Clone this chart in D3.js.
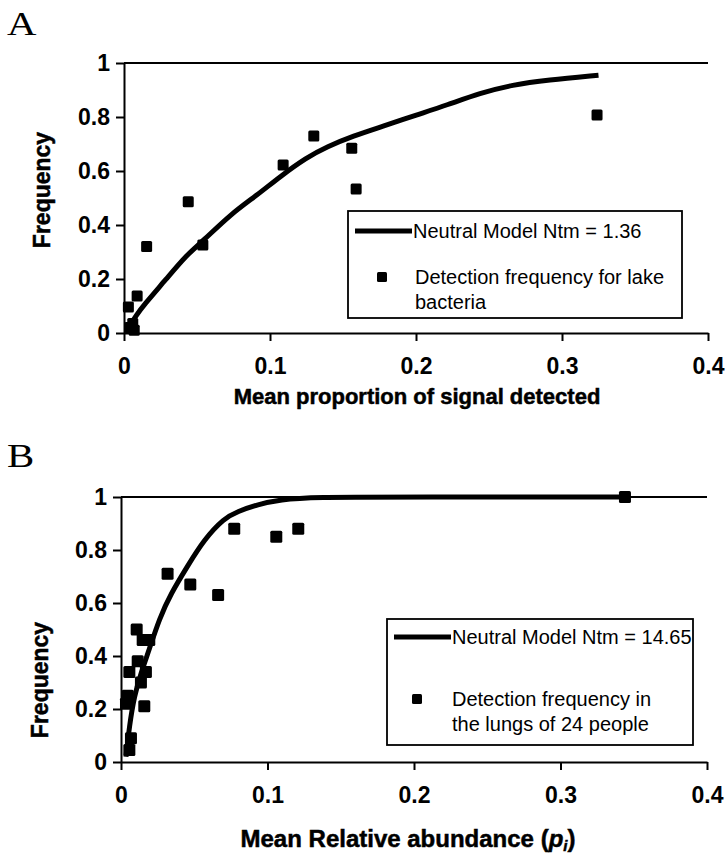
<!DOCTYPE html>
<html>
<head>
<meta charset="utf-8">
<script src="https://cdnjs.cloudflare.com/ajax/libs/d3/7.8.5/d3.min.js"></script>
<style>
  body { margin: 0; background: #fff; }
  text { font-family: "Liberation Sans", Arial, sans-serif; fill: #000; }
</style>
</head>
<body>
<div id="chart"></div>
<script>
// panel A - lake bacteria
var lakeX = [0.003, 0.009, 0.0155, 0.044, 0.054, 0.109, 0.13, 0.156, 0.159, 0.324, 0.004, 0.007, 0.006];
var lakeY = [0.096, 0.137, 0.32, 0.486, 0.326, 0.622, 0.73, 0.684, 0.533, 0.807, 0.02, 0.01, 0.035];
var modelAX = [0.002, 0.009, 0.013, 0.029, 0.043, 0.054, 0.073, 0.091, 0.107, 0.125, 0.139, 0.157, 0.177, 0.2, 0.221, 0.244, 0.266, 0.29, 0.325];
var modelAY = [0.01, 0.07, 0.10, 0.20, 0.29, 0.34, 0.44, 0.51, 0.58, 0.65, 0.69, 0.73, 0.765, 0.807, 0.844, 0.889, 0.919, 0.937, 0.955];

// panel B - lungs of 24 people
var lungX = [0.0057, 0.0068, 0.0034, 0.0046, 0.0159, 0.0136, 0.0057, 0.017, 0.0114, 0.0107, 0.0148, 0.0193, 0.0318, 0.0473, 0.0663, 0.0773, 0.106, 0.121, 0.344];
var lungY = [0.045, 0.09, 0.22, 0.25, 0.21, 0.30, 0.34, 0.34, 0.38, 0.50, 0.46, 0.46, 0.71, 0.67, 0.63, 0.88, 0.85, 0.88, 1.0];
var modelBX = [0.0034, 0.0057, 0.0091, 0.0136, 0.0193, 0.0261, 0.034, 0.0455, 0.0568, 0.0704, 0.0795, 0.0932, 0.109, 0.13, 0.2, 0.345];
var modelBY = [0.02, 0.135, 0.25, 0.335, 0.425, 0.54, 0.635, 0.74, 0.84, 0.92, 0.945, 0.972, 0.99, 1.0, 1.0, 1.0];

var xTicks = [0, 0.1, 0.2, 0.3, 0.4];
var yTicks = [0, 0.2, 0.4, 0.6, 0.8, 1];

var svg = d3.select('#chart')
  .append('svg')
  .attr('width', 726)
  .attr('height', 859);

svg.append('rect').attr('width', 726).attr('height', 859).attr('fill', '#fff');

var renderPanel = function(p) {
  var x = d3.scaleLinear().domain([0, 0.4]).range(p.xr);
  var y = d3.scaleLinear().domain([0, 1]).range(p.yr);
  var g = svg.append('g');

  // panel letter
  g.append('text')
    .attr('transform', 'translate(7,' + p.letterY + ') scale(1.2,1)')
    .style('font-family', '"Liberation Serif", "Times New Roman", serif')
    .style('font-size', '34px')
    .text(p.letter);

  // top border of plot area
  g.append('line')
    .attr('x1', x(0)).attr('x2', x(0.4))
    .attr('y1', y(1)).attr('y2', y(1))
    .attr('stroke', '#000').attr('stroke-width', 2);

  var xAxis = g.append('g')
    .attr('transform', 'translate(0,' + y(0) + ')')
    .call(d3.axisBottom(x).tickValues(xTicks).tickFormat(function(d) { return d; })
      .tickSize(8).tickSizeOuter(0).tickPadding(17));

  var yAxis = g.append('g')
    .attr('transform', 'translate(' + x(0) + ',0)')
    .call(d3.axisLeft(y).tickValues(yTicks).tickFormat(function(d) { return d; })
      .tickSize(8).tickSizeOuter(0).tickPadding(6));

  [xAxis, yAxis].forEach(function(a) {
    a.select('.domain').attr('stroke', '#000').attr('stroke-width', 2);
    a.selectAll('.tick line').attr('stroke', '#000').attr('stroke-width', 2);
    a.selectAll('.tick text')
      .style('font-family', '"Liberation Sans", Arial, sans-serif')
      .style('font-size', '23px')
      .style('font-weight', 'bold')
      .attr('fill', '#000');
  });

  // model curve
  var line = d3.line()
    .x(function(d) { return x(d[0]); })
    .y(function(d) { return y(d[1]); })
    .curve(d3.curveBasis);

  g.append('path')
    .datum(d3.zip(p.mx, p.my))
    .attr('d', line)
    .attr('fill', 'none')
    .attr('stroke', '#000')
    .attr('stroke-width', 5)
    .attr('stroke-linejoin', 'round');

  // observed points
  var s = p.size;
  g.selectAll('rect.pt')
    .data(d3.zip(p.px, p.py))
    .enter()
    .append('rect')
    .attr('class', 'pt')
    .attr('x', function(d) { return x(d[0]) - s / 2; })
    .attr('y', function(d) { return y(d[1]) - s / 2; })
    .attr('width', s).attr('height', s)
    .attr('rx', 1.5)
    .attr('fill', '#000');

  // axis titles
  g.append('text')
    .attr('transform', 'translate(' + p.yTitleX + ',' + p.yTitleY + ') rotate(-90)')
    .attr('text-anchor', 'middle')
    .style('font-size', '23px')
    .style('font-weight', 'bold')
    .attr('stroke', '#000').attr('stroke-width', 0.5)
    .text('Frequency');

  var xt = g.append('text')
    .attr('x', p.xTitleX)
    .attr('y', p.xTitleY)
    .attr('text-anchor', 'middle')
    .style('font-size', p.xTitleSize)
    .style('font-weight', 'bold')
    .attr('stroke', '#000').attr('stroke-width', 0.5);
  p.xTitle(xt);

  // legend
  var L = p.legend;
  g.append('rect')
    .attr('x', L.x).attr('y', L.y).attr('width', L.w).attr('height', L.h)
    .attr('fill', '#fff').attr('stroke', '#000').attr('stroke-width', 1.8);
  g.append('line')
    .attr('x1', L.x + 7).attr('x2', L.x + 64)
    .attr('y1', L.y + L.r1).attr('y2', L.y + L.r1)
    .attr('stroke', '#000').attr('stroke-width', 5);
  g.append('rect')
    .attr('x', L.x + L.mx - 5).attr('y', L.y + L.r2 - 5)
    .attr('width', 10).attr('height', 10).attr('rx', 1.5)
    .attr('fill', '#000');
  var lt = g.append('g').style('font-size', '20px');
  lt.append('text').attr('x', L.x + 65).attr('y', L.y + L.r1 + 7).text(L.t1);
  lt.append('text').attr('x', L.x + L.tx).attr('y', L.y + L.r2 + 7).text(L.t2);
  lt.append('text').attr('x', L.x + L.tx).attr('y', L.y + L.r2 + 32).text(L.t3);
};

renderPanel({
  letter: 'A', letterY: 35,
  xr: [124, 708], yr: [333, 63],
  px: lakeX, py: lakeY, mx: modelAX, my: modelAY, size: 11,
  yTitleX: 50, yTitleY: 190,
  xTitleX: 417, xTitleY: 404, xTitleSize: '22px',
  xTitle: function(t) { t.text('Mean proportion of signal detected'); },
  legend: { x: 348, y: 211, w: 334, h: 107, r1: 20, r2: 66, mx: 34, tx: 67,
    t1: 'Neutral Model Ntm = 1.36', t2: 'Detection frequency for lake', t3: 'bacteria' }
});

renderPanel({
  letter: 'B', letterY: 467,
  xr: [121, 707], yr: [762, 497],
  px: lungX, py: lungY, mx: modelBX, my: modelBY, size: 12,
  yTitleX: 48, yTitleY: 680,
  xTitleX: 408, xTitleY: 847, xTitleSize: '24px',
  xTitle: function(t) {
    t.append('tspan').text('Mean Relative abundance (');
    t.append('tspan').style('font-style', 'italic').text('p');
    t.append('tspan').style('font-style', 'italic').style('font-size', '15px').attr('dy', 4).text('i');
    t.append('tspan').attr('dy', -4).text(')');
  },
  legend: { x: 387, y: 619, w: 306, h: 126, r1: 18, r2: 80, mx: 30, tx: 65,
    t1: 'Neutral Model Ntm = 14.65', t2: 'Detection frequency in', t3: 'the lungs of 24 people' }
});
</script>
</body>
</html>
